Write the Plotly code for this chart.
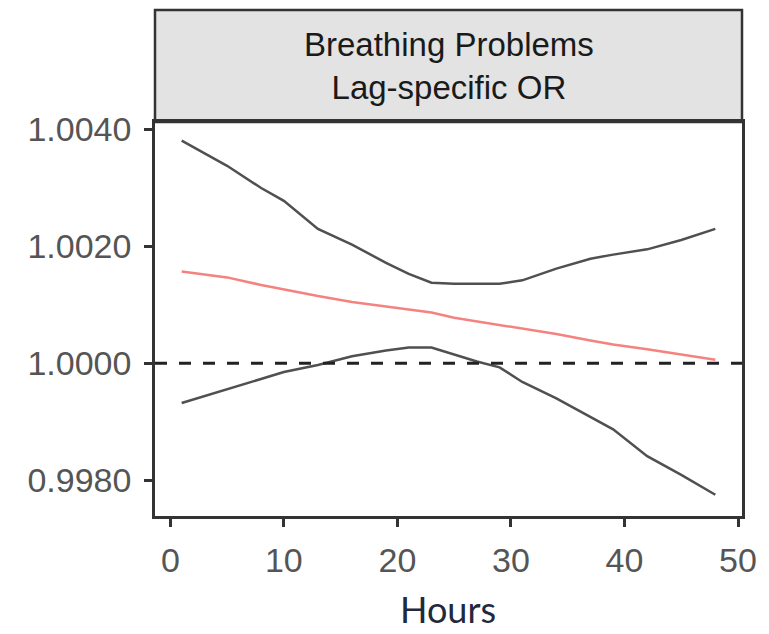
import plotly.graph_objects as go

hours = [1, 5, 8, 10, 13, 16, 19, 21, 23, 25, 27, 29, 31, 34, 37, 39, 42, 45, 48]
upper = [1.00381, 1.00338, 1.00300, 1.00278, 1.00230, 1.00203, 1.00172, 1.00153,
         1.00138, 1.00136, 1.00136, 1.00136, 1.00142, 1.00162, 1.00179, 1.00186,
         1.00195, 1.00211, 1.00230]
estimate = [1.00157, 1.00147, 1.00134, 1.00126, 1.00115, 1.00105, 1.00097, 1.00092,
            1.00087, 1.00078, 1.00072, 1.00066, 1.00060, 1.00050, 1.00039, 1.00032,
            1.00024, 1.00015, 1.00006]
lower = [0.99932, 0.99956, 0.99973, 0.99985, 0.99997, 1.00012, 1.00022, 1.00027,
         1.00027, 1.00015, 1.00003, 0.99993, 0.99968, 0.99940, 0.99908, 0.99887,
         0.99841, 0.99809, 0.99775]
y_ticks = [0.998, 1.000, 1.002, 1.004]
y_tick_labels = ["0.9980", "1.0000", "1.0020", "1.0040"]
x_ticks = [0, 10, 20, 30, 40, 50]
strip_title = "Breathing Problems<br>Lag-specific OR"
x_title = "Hours"

fig = go.Figure()
fig.add_trace(go.Scatter(x=hours, y=upper, mode="lines",
                         line=dict(color="#505050", width=2.5), showlegend=False))
fig.add_trace(go.Scatter(x=hours, y=lower, mode="lines",
                         line=dict(color="#505050", width=2.5), showlegend=False))
fig.add_trace(go.Scatter(x=hours, y=estimate, mode="lines",
                         line=dict(color="#F4837F", width=2.5), showlegend=False))

fig.add_hline(y=1.0, line=dict(color="#222222", width=3, dash="12px,12px"))

# strip header
fig.add_shape(type="rect", xref="paper", yref="paper", x0=0, x1=1, y0=1, y1=1.284,
              fillcolor="#E3E3E3", line=dict(color="#333333", width=2.5), layer="below")
fig.add_annotation(text=strip_title, xref="paper", yref="paper", x=0.5, y=1.142,
                   showarrow=False, xanchor="center", yanchor="middle",
                   font=dict(family="Liberation Sans, Arial", size=33, color="#1A1A1A"))
fig.add_annotation(text=x_title, xref="paper", yref="paper", x=0.499, y=-0.236,
                   showarrow=False, xanchor="center", yanchor="middle",
                   font=dict(family="Lato, Open Sans", size=36, color="#1F2A3C"))

axis_font = dict(family="Liberation Sans, Arial", size=34, color="#555555")
fig.update_xaxes(range=[-1.35, 50.35], tickvals=x_ticks, showgrid=False, zeroline=False,
                 showline=True, linecolor="#333333", linewidth=2.5, mirror=True,
                 ticks="outside", ticklen=8, tickwidth=2.5, tickcolor="#333333",
                 tickfont=axis_font, ticklabelstandoff=4)
fig.update_yaxes(range=[0.997386, 1.00413], tickvals=y_ticks, ticktext=y_tick_labels,
                 showgrid=False, zeroline=False,
                 showline=True, linecolor="#333333", linewidth=2.5, mirror=True,
                 ticks="outside", ticklen=8, tickwidth=2.5, tickcolor="#333333",
                 tickfont=axis_font, ticklabelstandoff=6)
fig.update_layout(width=769, height=634, margin=dict(l=155, r=17, t=122, b=118),
                  plot_bgcolor="white", paper_bgcolor="white")
fig.write_html("out.html")
